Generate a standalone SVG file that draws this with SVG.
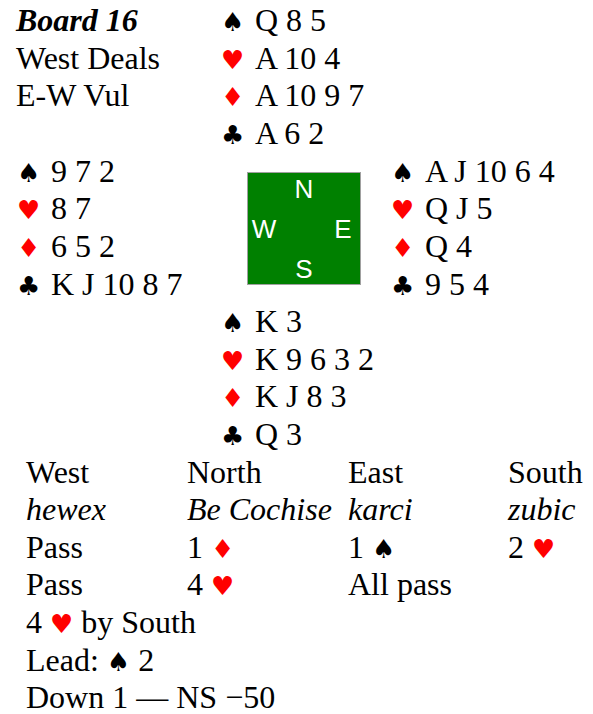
<svg xmlns="http://www.w3.org/2000/svg" width="593" height="714" viewBox="0 0 593 714">
<style>
text{font-family:"Liberation Serif","Times New Roman",serif;font-size:32px;fill:#000}
.s{font-family:"DejaVu Sans",sans-serif;font-size:26px}
.r{fill:#ff0000}
.i{font-style:italic}
.c{font-family:"Liberation Sans",Arial,sans-serif;font-size:26px;fill:#fff;text-anchor:middle}
</style>
<rect width="593" height="714" fill="#fff"/>
<g id="header">
<text x="16" y="31" font-weight="bold" class="i">Board 16</text>
<text x="16" y="69">West Deals</text>
<text x="16" y="106">E-W Vul</text>
</g>
<g id="north">
<text class="s" x="221" y="31">♠</text><text x="255" y="31">Q 8 5</text>
<text class="s r" x="221" y="69">♥</text><text x="255" y="69">A 10 4</text>
<text class="s r" x="221" y="106">♦</text><text x="255" y="106">A 10 9 7</text>
<text class="s" x="221" y="144">♣</text><text x="255" y="144">A 6 2</text>
</g>
<g id="west">
<text class="s" x="17" y="182">♠</text><text x="51" y="182">9 7 2</text>
<text class="s r" x="17" y="219">♥</text><text x="51" y="219">8 7</text>
<text class="s r" x="17" y="257">♦</text><text x="51" y="257">6 5 2</text>
<text class="s" x="17" y="295">♣</text><text x="51" y="295">K J 10 8 7</text>
</g>
<g id="compass">
<rect x="247.5" y="172.5" width="113" height="112" fill="#008000" stroke="#a0a0a0" stroke-width="1"/>
<text class="c" x="304" y="198">N</text>
<text class="c" x="264" y="238">W</text>
<text class="c" x="343" y="238">E</text>
<text class="c" x="304" y="278">S</text>
</g>
<g id="east">
<text class="s" x="391" y="182">♠</text><text x="425" y="182">A J 10 6 4</text>
<text class="s r" x="391" y="219">♥</text><text x="425" y="219">Q J 5</text>
<text class="s r" x="391" y="257">♦</text><text x="425" y="257">Q 4</text>
<text class="s" x="391" y="295">♣</text><text x="425" y="295">9 5 4</text>
</g>
<g id="south">
<text class="s" x="221" y="332">♠</text><text x="255" y="332">K 3</text>
<text class="s r" x="221" y="370">♥</text><text x="255" y="370">K 9 6 3 2</text>
<text class="s r" x="221" y="407">♦</text><text x="255" y="407">K J 8 3</text>
<text class="s" x="221" y="445">♣</text><text x="255" y="445">Q 3</text>
</g>
<g id="auction">
<text x="26" y="483">West</text>
<text x="187" y="483">North</text>
<text x="348" y="483">East</text>
<text x="508" y="483">South</text>
<text class="i" x="26" y="520">hewex</text>
<text class="i" x="187" y="520">Be Cochise</text>
<text class="i" x="348" y="520">karci</text>
<text class="i" x="508" y="520">zubic</text>
<text x="26" y="558">Pass</text>
<text x="187" y="558">1 <tspan class="s r">♦</tspan></text>
<text x="348" y="558">1 <tspan class="s">♠</tspan></text>
<text x="508" y="558">2 <tspan class="s r">♥</tspan></text>
<text x="26" y="595">Pass</text>
<text x="187" y="595">4 <tspan class="s r">♥</tspan></text>
<text x="348" y="595">All pass</text>
</g>
<g id="result">
<text x="26" y="633">4 <tspan class="s r">♥</tspan> by South</text>
<text x="26" y="671">Lead: <tspan class="s">♠</tspan> 2</text>
<text x="26" y="708">Down 1 — NS −50</text>
</g>
</svg>
